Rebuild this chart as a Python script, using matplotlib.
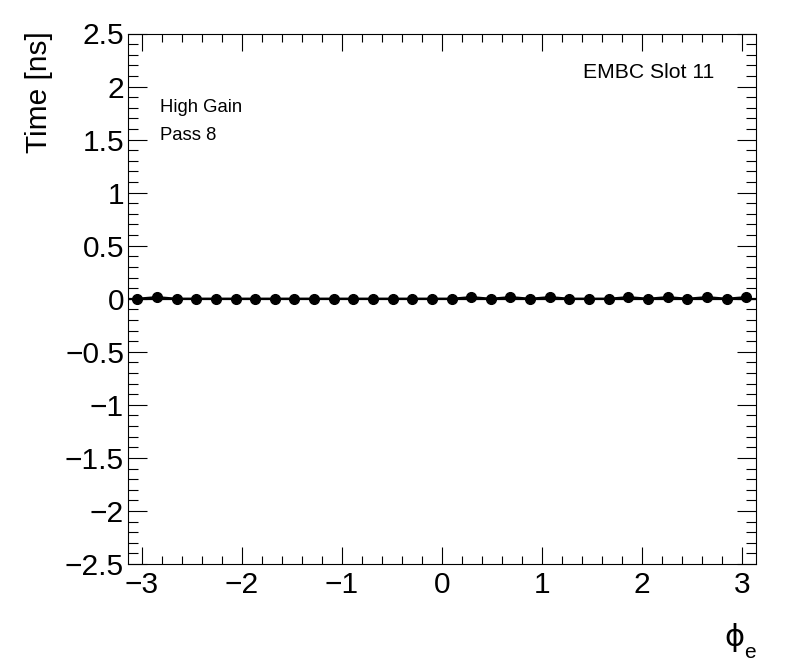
import numpy as np
import matplotlib
matplotlib.use("Agg")
import matplotlib.pyplot as plt
from matplotlib.ticker import MultipleLocator, FuncFormatter

plt.rcParams['font.family'] = ['Liberation Sans', 'DejaVu Sans']

# 32 phi bins over [-pi, pi]
n_bins = 32
phi_edges = np.linspace(-np.pi, np.pi, n_bins + 1)
phi_centers = 0.5 * (phi_edges[:-1] + phi_edges[1:])

# mean time per bin [ns]
time_ns = [0.0, 0.015, 0.0, 0.0, 0.0, 0.0, 0.0, 0.0,
           0.0, 0.0, 0.0, 0.0, 0.0, 0.0, 0.0, 0.0,
           0.0, 0.015, 0.0, 0.015, 0.0, 0.015, 0.0, 0.0,
           0.0, 0.015, 0.0, 0.015, 0.0, 0.015, 0.0, 0.015]

fig = plt.figure(figsize=(7.96, 6.72), dpi=100)
ax = fig.add_axes([127.5 / 796, 1 - 564 / 672, (756 - 127.5) / 796, (564 - 33.5) / 672])

ax.axhline(0, color='black', linewidth=1.6, zorder=2)
ax.plot(phi_centers, time_ns, color='black', linewidth=1.6, marker='o',
        markersize=7, zorder=3)

ax.set_xlim(-np.pi, np.pi)
ax.set_ylim(-2.5, 2.5)

ax.xaxis.set_major_locator(MultipleLocator(1))
ax.xaxis.set_minor_locator(MultipleLocator(0.2))
ax.yaxis.set_major_locator(MultipleLocator(0.5))
ax.yaxis.set_minor_locator(MultipleLocator(0.1))

ax.tick_params(which='both', direction='in', top=True, right=True, width=0.8,
               labelsize=21.5)
ax.tick_params(axis='x', which='major', length=12, pad=5)
ax.tick_params(axis='x', which='minor', length=6)
ax.tick_params(axis='y', which='major', length=14, pad=2.5)
ax.tick_params(axis='y', which='minor', length=7)
for s in ax.spines.values():
    s.set_linewidth(0.8)

fmt = FuncFormatter(lambda v, p: ('%g' % v).replace('-', '\u2212'))
ax.xaxis.set_major_formatter(fmt)
ax.yaxis.set_major_formatter(fmt)

fig.text(53 / 796, 1 - 31 / 672, 'Time [ns]', rotation=90, ha='right', va='top',
         fontsize=21.5)
# x axis title: phi with subscript e
fig.text(744 / 796, 1 - 638 / 672, '\u03d5', ha='right', va='center',
         fontsize=22, family='DejaVu Sans')
fig.text(744 / 796, 1 - 652 / 672, 'e', ha='left', va='center', fontsize=15)

fig.text(160 / 796, 1 - 108 / 672, 'High Gain', ha='left', va='center', fontsize=13.3)
fig.text(160 / 796, 1 - 135 / 672, 'Pass 8', ha='left', va='center', fontsize=13.3)
fig.text(714 / 796, 1 - 73 / 672, 'EMBC Slot 11', ha='right', va='center', fontsize=15.2)

fig.savefig('out.png', dpi=100)
